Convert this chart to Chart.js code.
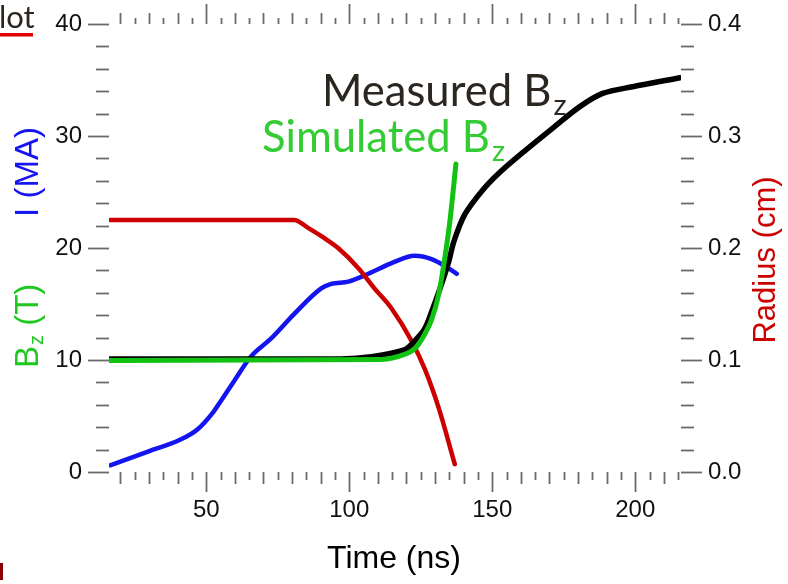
<!DOCTYPE html>
<html><head><meta charset="utf-8">
<script src="https://cdn.jsdelivr.net/npm/chart.js@4/dist/chart.umd.min.js"></script>
<style>html,body{margin:0;padding:0;background:#fff}#wrap{width:788px;height:584px;position:relative}</style>
</head><body><div id="wrap"><canvas id="c" width="788" height="584"></canvas></div>
<script>
// ---- data ----
const xTickValues = [50, 100, 150, 200];
const leftTickValues = [0, 10, 20, 30, 40];
const rightTickValues = [0.0, 0.1, 0.2, 0.3, 0.4];

const timeCurrent = [16.4, 29.4, 41.0, 46.9, 52.6, 55.0, 59.7, 65.6, 72.6, 80.7, 90.2, 93.7, 99.7, 106.7, 114.8, 122.9, 128.8, 133.4, 137.6];
const currentMA   = [0.6, 1.8, 2.9, 3.8, 5.4, 6.3, 8.1, 10.3, 11.9, 14.1, 16.4, 16.8, 17.0, 17.7, 18.65, 19.3, 19.0, 18.4, 17.7];

const timeRadius = [16.4, 80.7, 85.6, 91.2, 96.1, 103.2, 108.8, 114.8, 121.8, 126.4, 131.3, 136.9];
const radiusCm   = [0.225, 0.225, 0.218, 0.209, 0.200, 0.182, 0.164, 0.146, 0.117, 0.092, 0.057, 0.007];

const timeBzMeasured = [16.4, 97.2, 107.7, 119.3, 122.9, 126.4, 128.8, 132.3, 134.8, 136.6, 140.4, 146.4, 152.4, 161.5, 172.1, 180.5, 188.6, 199.1, 215.6];
const bzMeasured     = [10.1, 10.1, 10.3, 10.9, 11.7, 12.8, 14.3, 16.8, 18.8, 20.6, 23.0, 25.1, 26.7, 28.7, 30.9, 32.6, 33.8, 34.4, 35.2];

const timeBzSimulated = [16.4, 111.3, 119.3, 122.9, 126.4, 128.8, 131.3, 133.4, 135.2, 137.3];
const bzSimulated     = [9.95, 10.05, 10.5, 11.0, 12.3, 13.6, 15.9, 19.1, 22.4, 27.5];

const pts = (xs, ys) => xs.map((x, i) => ({x: x, y: ys[i]}));

const tickFont = {family: '"Liberation Sans", Arial, sans-serif', size: 24};

const decorPlugin = {
  id: 'decor',
  afterDraw(chart) {
    const {ctx, chartArea: ca, scales} = chart;
    const x = scales.x, y = scales.y, y1 = scales.y1;
    ctx.save();
    // tick marks
    ctx.strokeStyle = '#6a6a6a';
    ctx.lineWidth = 1.8;
    const line = (a, b, c, d) => { ctx.beginPath(); ctx.moveTo(a, b); ctx.lineTo(c, d); ctx.stroke(); };
    for (let v = 20; v <= 215; v += 5) {
      const px = Math.round(x.getPixelForValue(v)) + 0.5;
      const lb = v % 50 === 0 ? 20 : (v % 10 === 0 ? 12 : 8);
      const lt = v % 50 === 0 ? 20 : (v % 10 === 0 ? 11 : 6);
      line(px, ca.bottom, px, ca.bottom + lb);
      line(px, ca.top, px, ca.top - lt);
    }
    for (let v = 0; v <= 40; v += 2) {
      const l = v % 10 === 0 ? 21 : 13;
      const py = Math.round(y.getPixelForValue(v)) + 0.5;
      line(ca.left - l, py, ca.left, py);
      const py1 = Math.round(y1.getPixelForValue(v / 100)) + 0.5;
      line(ca.right, py1, ca.right + l, py1);
    }
    // axis titles
    ctx.font = '32px "Liberation Sans", Arial, sans-serif';
    ctx.fillStyle = '#000';
    ctx.textAlign = 'center';
    ctx.textBaseline = 'alphabetic';
    ctx.fillText('Time (ns)', 394, 568);

    // left: I (MA)
    ctx.save();
    ctx.translate(38, 172);
    ctx.rotate(-Math.PI / 2);
    ctx.fillStyle = '#1414f0';
    ctx.textAlign = 'center';
    ctx.font = '33px "Liberation Sans", Arial, sans-serif';
    ctx.fillText('I (MA)', 0, 0);
    ctx.restore();

    // left: Bz (T)
    ctx.save();
    ctx.translate(38, 368);
    ctx.rotate(-Math.PI / 2);
    ctx.fillStyle = '#1ec81e';
    ctx.textAlign = 'left';
    ctx.font = '33px "Liberation Sans", Arial, sans-serif';
    ctx.fillText('B', 0, 0);
    const wB = ctx.measureText('B').width;
    ctx.font = '20px "Liberation Sans", Arial, sans-serif';
    ctx.fillText('z', wB + 1, 5);
    const wz = ctx.measureText('z').width;
    ctx.font = '33px "Liberation Sans", Arial, sans-serif';
    ctx.fillText(' (T)', wB + wz + 1, 0);
    ctx.restore();

    // right: Radius (cm)
    ctx.save();
    ctx.translate(775, 260);
    ctx.rotate(-Math.PI / 2);
    ctx.fillStyle = '#cc0000';
    ctx.textAlign = 'center';
    ctx.font = '31px "Liberation Sans", Arial, sans-serif';
    ctx.fillText('Radius (cm)', 0, 0);
    ctx.restore();

    // annotations
    ctx.textAlign = 'left';
    let fs = 44;
    ctx.font = fs + 'px Lato, "Open Sans", sans-serif';
    fs = fs * 190 / ctx.measureText('Measured').width;
    const af = fs.toFixed(1) + 'px Lato, "Open Sans", sans-serif';
    const sf = (fs * 0.66).toFixed(1) + 'px Lato, "Open Sans", sans-serif';
    ctx.font = af;
    ctx.fillStyle = '#2b2620';
    ctx.fillText('Measured B', 322, 106);
    let w = ctx.measureText('Measured B').width;
    ctx.font = sf;
    ctx.fillText('z', 322 + w + 2, 115);

    ctx.font = af;
    ctx.fillStyle = '#33cc33';
    ctx.fillText('Simulated B', 262, 152);
    w = ctx.measureText('Simulated B').width;
    ctx.font = sf;
    ctx.fillText('z', 262 + w + 2, 161);

    // slide remnants
    ctx.font = '31px Lato, "Open Sans", sans-serif';
    ctx.fillStyle = '#2b2620';
    ctx.fillText('lot', -1, 28);
    ctx.fillStyle = '#e00000';
    ctx.fillRect(0, 33, 33, 3.5);
    ctx.fillStyle = '#8b0000';
    ctx.fillRect(0, 563, 3, 17);
    ctx.restore();
  }
};

const noPad = s => { s.paddingTop = 0; s.paddingBottom = 0; s.paddingLeft = 0; s.paddingRight = 0; };

new Chart(document.getElementById('c'), {
  type: 'line',
  data: {
    datasets: [
      {label: 'Simulated Bz', data: pts(timeBzSimulated, bzSimulated), yAxisID: 'y', borderColor: '#12c212', borderWidth: 5},
      {label: 'Measured Bz', data: pts(timeBzMeasured, bzMeasured), yAxisID: 'y', borderColor: '#000000', borderWidth: 5.5, cubicInterpolationMode: 'default', tension: 0.3},
      {label: 'Radius', data: pts(timeRadius, radiusCm), yAxisID: 'y1', borderColor: '#cc0000', borderWidth: 4.5},
      {label: 'I', data: pts(timeCurrent, currentMA), yAxisID: 'y', borderColor: '#1414f0', borderWidth: 4.5}
    ]
  },
  options: {
    responsive: false,
    animation: false,
    layout: {padding: {top: 24, left: 0, right: 0, bottom: 0}},
    elements: {
      point: {radius: 0},
      line: {cubicInterpolationMode: 'monotone', borderCapStyle: 'round', borderJoinStyle: 'round', fill: false}
    },
    plugins: {legend: {display: false}, tooltip: {enabled: false}, title: {display: false}},
    scales: {
      x: {
        type: 'linear', position: 'bottom', min: 16, max: 216,
        grid: {display: false, drawTicks: false}, border: {display: false},
        afterBuildTicks: s => { s.ticks = xTickValues.map(v => ({value: v})); },
        afterFit: s => { s.height = 112; noPad(s); },
        ticks: {font: tickFont, color: '#111', padding: 24, autoSkip: false, maxRotation: 0, callback: v => String(v)}
      },
      y: {
        type: 'linear', position: 'left', min: 0, max: 40,
        grid: {display: false, drawTicks: false}, border: {display: false},
        afterBuildTicks: s => { s.ticks = leftTickValues.map(v => ({value: v})); },
        afterFit: s => { s.width = 109; noPad(s); },
        ticks: {font: tickFont, color: '#111', padding: 27, callback: v => String(v)}
      },
      y1: {
        type: 'linear', position: 'right', min: 0, max: 0.4,
        grid: {display: false, drawTicks: false}, border: {display: false},
        afterBuildTicks: s => { s.ticks = rightTickValues.map(v => ({value: v})); },
        afterFit: s => { s.width = 107; noPad(s); },
        ticks: {font: tickFont, color: '#111', padding: 27, callback: v => Number(v).toFixed(1)}
      }
    }
  },
  plugins: [decorPlugin]
});
</script>
</body></html>
